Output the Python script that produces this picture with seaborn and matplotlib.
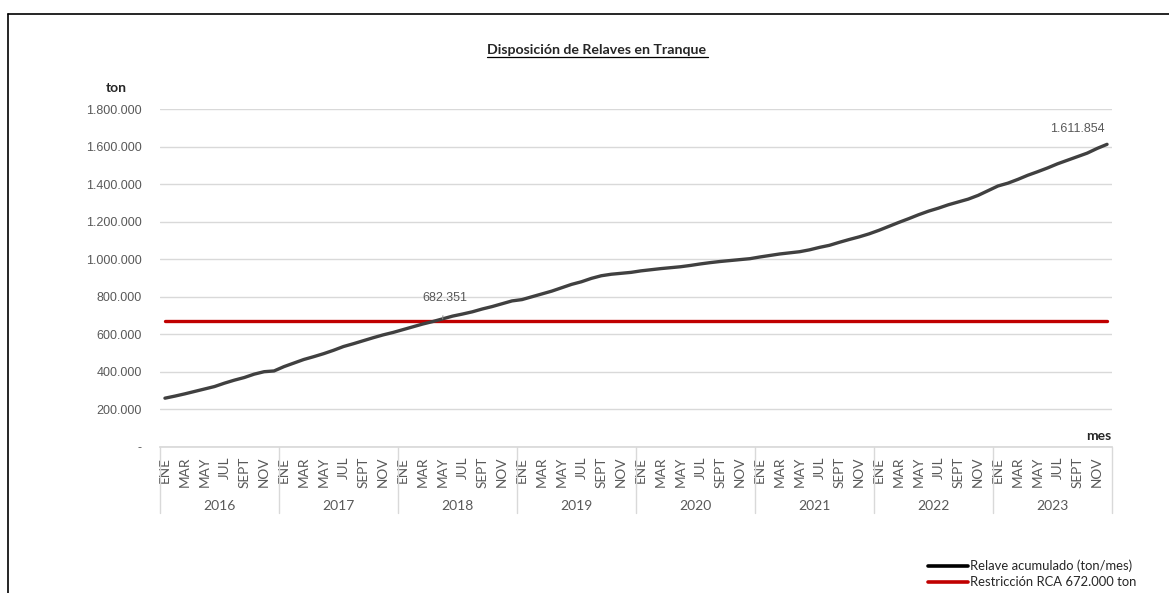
import numpy as np
import pandas as pd
import matplotlib
matplotlib.use("Agg")
import matplotlib.pyplot as plt
import matplotlib.transforms as mtransforms
from matplotlib.lines import Line2D
from matplotlib.ticker import FuncFormatter
import seaborn as sns

# Data (cumulative tailings, ton)
years = [2016, 2017, 2018, 2019, 2020, 2021, 2022, 2023]
month_names = ["ENE", "FEB", "MAR", "ABR", "MAY", "JUN", "JUL", "AGO", "SEPT", "OCT", "NOV", "DIC"]
shown_months = ["ENE", "MAR", "MAY", "JUL", "SEPT", "NOV"]
relave = [
    260000, 271000, 283000, 296000, 309000, 322000, 340000, 356000, 370000, 388000, 401000, 405000,
    428000, 447000, 466000, 481000, 497000, 515000, 535000, 550000, 566000, 582000, 597000, 610000,
    625000, 640000, 655000, 668000, 682351, 697000, 708000, 720000, 735000, 748000, 763000, 778000,
    785000, 800000, 815000, 830000, 848000, 866000, 880000, 898000, 912000, 920000, 925000, 930000,
    938000, 944000, 950000, 955000, 960000, 967000, 975000, 982000, 988000, 993000, 998000, 1003000,
    1012000, 1020000, 1028000, 1034000, 1040000, 1050000, 1063000, 1074000, 1090000, 1105000, 1119000, 1135000,
    1154000, 1175000, 1196000, 1216000, 1237000, 1256000, 1272000, 1290000, 1305000, 1320000, 1340000, 1365000,
    1390000, 1405000, 1425000, 1447000, 1466000, 1486000, 1508000, 1527000, 1546000, 1565000, 1590000, 1611854,
]
restriccion = 672000
label_points = [28, 95]

df = pd.DataFrame({
    "idx": np.arange(len(relave)),
    "year": np.repeat(years, 12),
    "month": month_names * len(years),
    "relave": relave,
})
df["restriccion"] = restriccion

sns.set_theme(style="white")
plt.rcParams["font.family"] = ["Lato", "DejaVu Sans"]

fig = plt.figure(figsize=(11.69, 5.93), dpi=100)
ax = fig.add_axes([160 / 1169, 1 - 447 / 593, 952 / 1169, 338 / 593])

gray = "#595959"
ax.set_ylim(0, 1800000)
ax.set_xlim(-0.5, len(relave) - 0.5)
ax.set_yticks(np.arange(0, 1800001, 200000))
ax.yaxis.set_major_formatter(FuncFormatter(
    lambda v, p: "-" if v == 0 else f"{int(v):,}".replace(",", ".")))
ax.grid(axis="y", color="#d9d9d9", linewidth=1)
ax.set_axisbelow(True)
for s in ["top", "right", "left"]:
    ax.spines[s].set_visible(False)
ax.spines["bottom"].set_color("#d9d9d9")
ax.tick_params(axis="y", length=0, pad=13, labelsize=9, labelcolor=gray)
for t in ax.get_yticklabels():
    t.set_fontfamily("Liberation Sans")

sns.lineplot(data=df, x="idx", y="restriccion", ax=ax, color="#c00000", linewidth=2.4)
sns.lineplot(data=df, x="idx", y="relave", ax=ax, color="#404040", linewidth=2.4)
ax.set_xlabel("")
ax.set_ylabel("")

# month tick labels
ticks = df[df["month"].isin(shown_months)]
ax.set_xticks(ticks["idx"])
ax.set_xticklabels(ticks["month"], rotation=90, fontsize=9.8, color=gray)
ax.tick_params(axis="x", length=0, pad=7)

# year labels and separators
trans = mtransforms.blended_transform_factory(ax.transData, ax.transAxes)
for i, yr in enumerate(years):
    ax.text(i * 12 + 5.5, -0.175, str(yr), transform=trans, ha="center", va="center",
            fontsize=10, color=gray)
for i in range(len(years) + 1):
    ax.add_line(Line2D([i * 12 - 0.5, i * 12 - 0.5], [0, -0.195], transform=trans,
                       color="#d9d9d9", linewidth=1, clip_on=False))

# data labels
i0, i1 = label_points
ax.annotate(f"{relave[i0]:,}".replace(",", "."), xy=(i0, relave[i0]),
            xytext=(i0 + 0.2, relave[i0] + 110000), ha="center", va="center",
            fontsize=9, color=gray, fontfamily="Liberation Sans",
            arrowprops=dict(arrowstyle="-", color="#8c8c8c", lw=0.8, shrinkA=6, shrinkB=0))
ax.text(i1 - 3.0, relave[i1] + 80000, f"{relave[i1]:,}".replace(",", "."),
        ha="center", va="center", fontsize=9, color=gray, fontfamily="Liberation Sans")

# axis titles
fig.text(116 / 1169, 1 - 88 / 593, "ton", ha="center", va="center", fontsize=10, fontweight="bold")
fig.text(1099 / 1169, 1 - 436 / 593, "mes", ha="center", va="center", fontsize=10, fontweight="bold")

# title
fig.text(597 / 1169, 1 - 50 / 593, "Disposición de Relaves en Tranque", ha="center", va="center",
         fontsize=10.2, fontweight="bold")
fig.add_artist(Line2D([487 / 1169, 708 / 1169], [1 - 57 / 593, 1 - 57 / 593],
                      color="black", linewidth=0.9))

# legend
handles = [Line2D([], [], color="black", linewidth=2.6),
           Line2D([], [], color="#c00000", linewidth=2.6)]
fig.legend(handles, ["Relave acumulado (ton/mes)", "Restricción RCA 672.000 ton"],
           loc="lower left", bbox_to_anchor=(916 / 1169, -0.012), frameon=False,
           fontsize=9.4, handlelength=3.1, handletextpad=0.1, labelspacing=0.3)

# outer frame
fig.add_artist(Line2D([8 / 1169, 1], [1 - 14 / 593, 1 - 14 / 593], color="black", linewidth=1.2))
fig.add_artist(Line2D([8 / 1169, 8 / 1169], [0, 1 - 14 / 593], color="black", linewidth=1.2))

fig.savefig("out.png", dpi=100)
